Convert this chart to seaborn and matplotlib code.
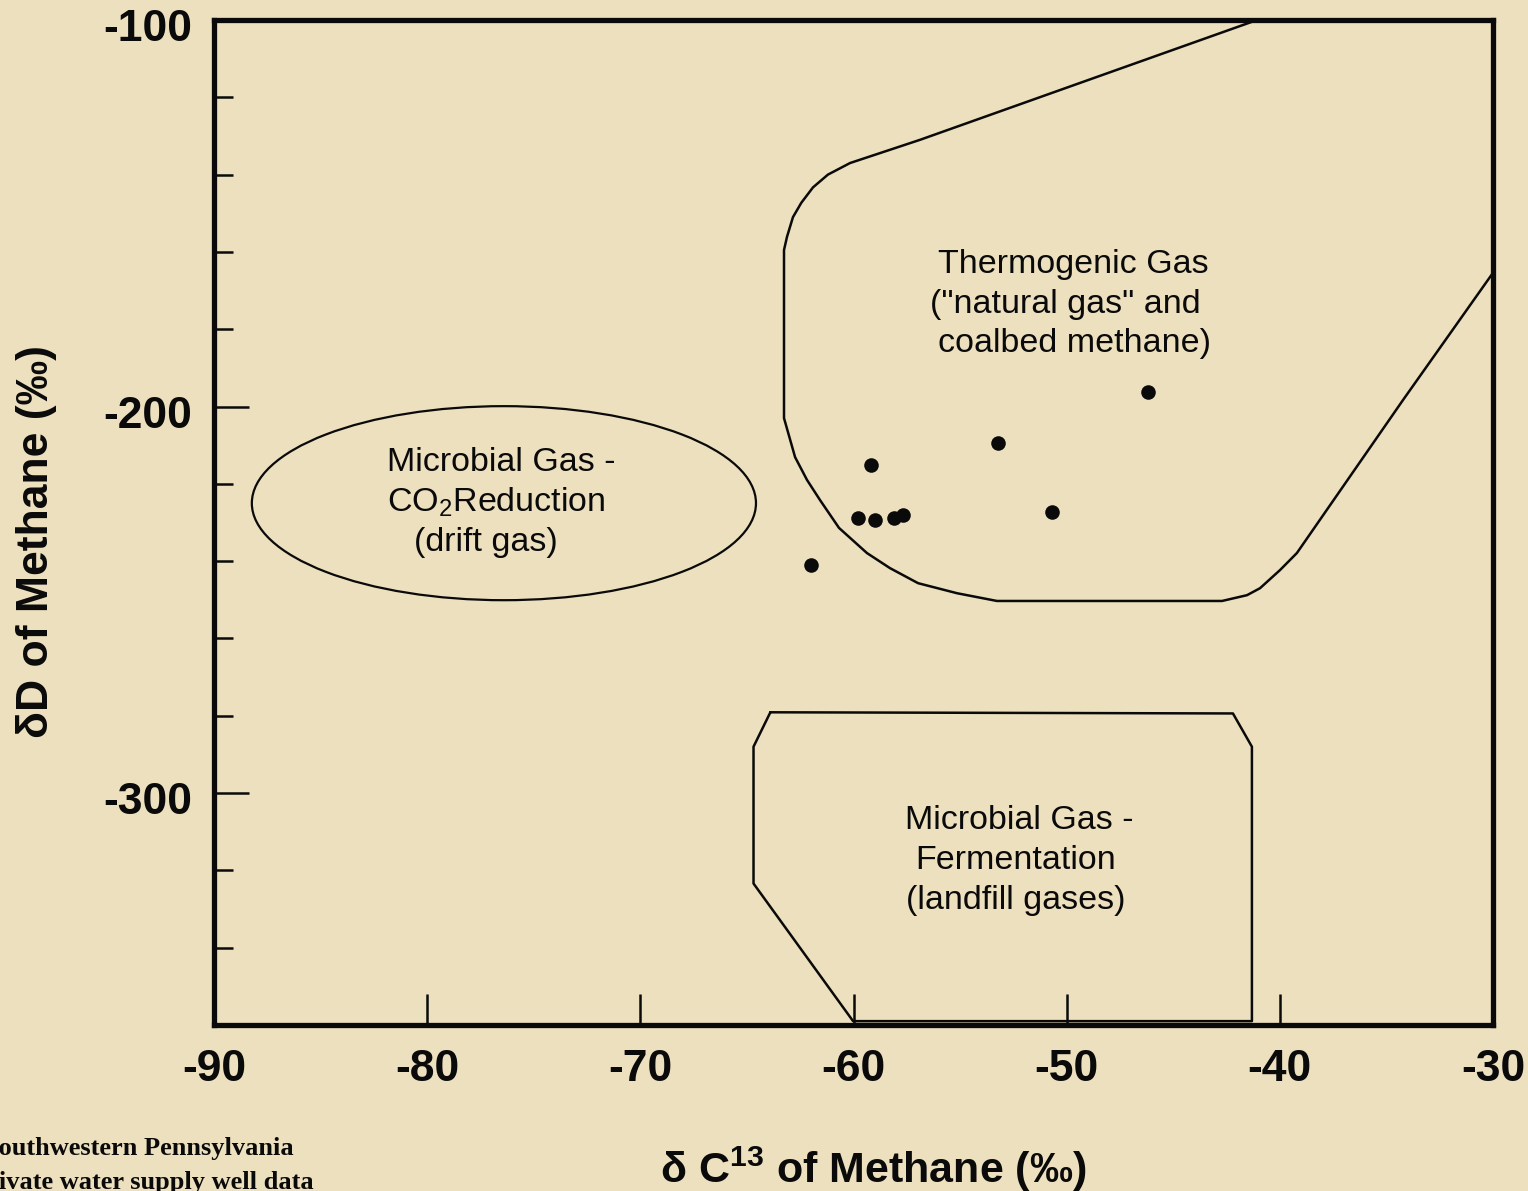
import matplotlib
matplotlib.use("Agg")
import matplotlib.pyplot as plt
import seaborn as sns
import pandas as pd
from matplotlib.patches import Ellipse
from matplotlib.ticker import MultipleLocator
from matplotlib.transforms import ScaledTranslation

# Private water supply wells: isotopic composition of dissolved methane (per mil)
d13c_methane = [-46.2, -53.2, -59.2, -59.8, -59.0, -58.1, -57.7, -50.7, -62.0]
dD_methane = [-196.2, -209.4, -215.1, -228.9, -229.4, -228.9, -228.1, -227.3, -241.0]

# Thermogenic gas field (outline vertices, open towards the upper right)
thermo_x = [-41.07, -56.88, -60.16, -61.20, -61.90, -62.45, -62.84, -63.12, -63.26,
            -63.26, -62.74, -62.18, -61.57, -60.68, -59.37, -58.29, -56.97, -55.14,
            -53.27, -42.71, -41.54, -40.93, -39.99, -39.20, -34.22, -30.00]
thermo_y = [-100.0, -131.0, -137.0, -140.0, -143.3, -147.3, -151.0, -156.1, -159.5,
            -203.0, -213.1, -219.0, -224.2, -231.4, -237.9, -241.8, -245.7, -248.3,
            -250.3, -250.3, -248.8, -247.0, -242.3, -237.9, -198.3, -165.4]

# Microbial gas, fermentation field (closed outline)
ferm_x = [-63.90, -42.20, -41.31, -41.31, -60.02, -64.69, -64.69, -63.90]
ferm_y = [-279.1, -279.4, -288.0, -359.0, -359.0, -323.4, -288.0, -279.1]

# Microbial gas, CO2 reduction field (ellipse: centre, full width, full height)
co2_center = (-76.40, -225.0)
co2_width = 23.65
co2_height = 50.2

x_ticks = [-90, -80, -70, -60, -50, -40, -30]
x_tick_labels = ["-90", "-80", "-70", "-60", "-50", "-40", "-30"]
y_ticks = [-100, -200, -300]
y_tick_labels = ["-100", "-200", "-300"]

sns.set_style("ticks")
plt.rcParams["font.family"] = ["Liberation Sans", "DejaVu Sans"]
plt.rcParams["mathtext.fontset"] = "custom"
plt.rcParams["mathtext.rm"] = "Liberation Sans"
plt.rcParams["mathtext.bf"] = "Liberation Sans:bold"

BG = "#EDE0BF"
INK = "#0a0a0a"
W, H = 1528, 1191

fig = plt.figure(figsize=(W / 100, H / 100), dpi=100, facecolor=BG)
ax = fig.add_axes([214 / W, 1 - 1025 / H, (1493 - 214) / W, (1025 - 20) / H])
ax.set_facecolor(BG)

# region outlines
sns.lineplot(x=thermo_x, y=thermo_y, sort=False, estimator=None, color=INK,
             linewidth=1.8, ax=ax)
sns.lineplot(x=ferm_x, y=ferm_y, sort=False, estimator=None, color=INK,
             linewidth=1.8, ax=ax)
ax.add_patch(Ellipse(co2_center, co2_width, co2_height, fill=False,
                     edgecolor=INK, linewidth=1.6))

# sample points
samples = pd.DataFrame({"d13C": d13c_methane, "dD": dD_methane})
sns.scatterplot(data=samples, x="d13C", y="dD", s=110, color=INK,
                edgecolor=INK, linewidth=0, ax=ax, zorder=5)

ax.set_xlim(-90, -30)
ax.set_ylim(-360, -100)
ax.set_xlabel("")
ax.set_ylabel("")

ax.set_xticks(x_ticks, labels=x_tick_labels, fontsize=32, fontweight="bold")
ax.set_yticks(y_ticks, labels=y_tick_labels, fontsize=32, fontweight="bold")
ax.yaxis.set_minor_locator(MultipleLocator(20))
ax.tick_params(axis="x", which="major", direction="in", length=22, width=1.8,
               pad=17, colors=INK)
ax.tick_params(axis="y", which="major", direction="in", length=25, width=1.8,
               pad=16, colors=INK)
ax.tick_params(axis="y", which="minor", direction="in", length=14, width=1.8,
               colors=INK)
# nudge the value labels on the vertical axis slightly below their ticks
shift_down = ScaledTranslation(0, -5 / 100, fig.dpi_scale_trans)
for tick in ax.yaxis.get_major_ticks():
    tick.label1.set_verticalalignment("center_baseline")
    tick.label1.set_transform(tick.label1.get_transform() + shift_down)
for spine in ax.spines.values():
    spine.set_visible(True)
    spine.set_linewidth(3.8)
    spine.set_color(INK)
    spine.set_zorder(6)

# region annotations
txt = dict(fontsize=24.5, color=INK, ha="left", va="center")
ax.text(-56.04, -163.2, "Thermogenic Gas", **txt)
ax.text(-56.41, -173.5, '("natural gas" and', **txt)
ax.text(-56.04, -183.8, "coalbed methane)", **txt)

ax.text(-81.88, -214.4, "Microbial Gas -", **txt)
ax.text(-81.88, -224.7, r"CO$_\mathregular{2}$Reduction", **txt)
ax.text(-80.62, -235.3, "(drift gas)", **txt)

ax.text(-57.58, -307.0, "Microbial Gas -", **txt)
ax.text(-57.12, -317.4, "Fermentation", **txt)
ax.text(-57.53, -327.7, "(landfill gases)", **txt)

# axis titles
fig.text(37 / W, 1 - 542 / H, "δD of Methane (‰)", rotation=90, ha="center",
         va="center", fontsize=32, fontweight="bold", color=INK)
fig.text(873 / W, 1 - 1169 / H, r"δ C$^\mathregular{13}$ of Methane (‰)",
         ha="center", va="center", fontsize=31, fontweight="bold", color=INK)

# source note
note = dict(family=["Liberation Serif", "DejaVu Serif"], fontweight="bold",
            fontsize=19, color=INK, ha="left", va="center")
fig.text(-16 / W, 1 - 1149 / H, "Southwestern Pennsylvania", **note)
fig.text(-29 / W, 1 - 1182 / H, "Private water supply well data", **note)

fig.savefig("out.png", dpi=100, facecolor=BG)
